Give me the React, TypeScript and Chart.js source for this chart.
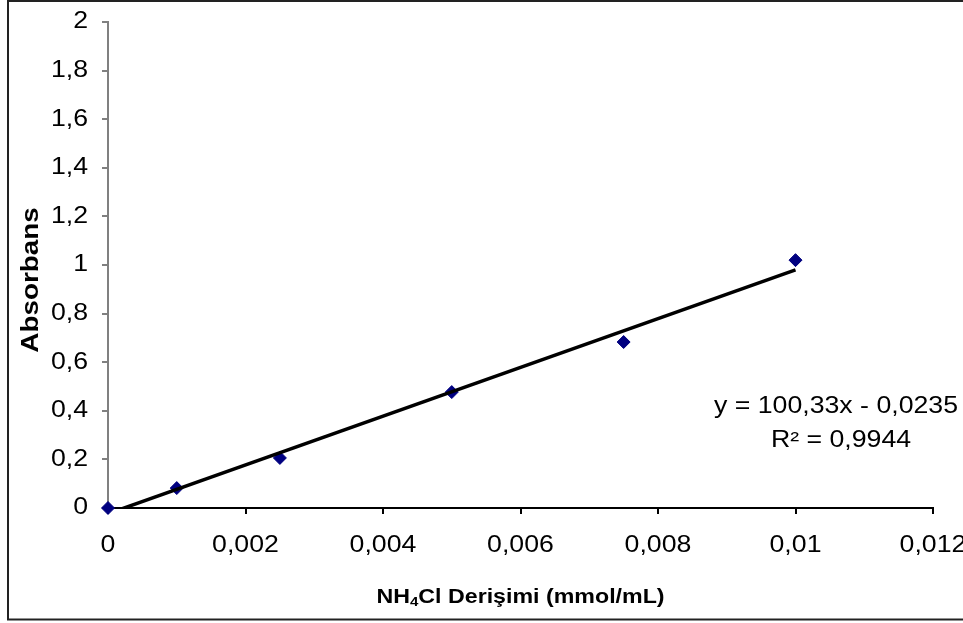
import { useEffect, useRef } from "react";
import { Chart, registerables } from "chart.js";

Chart.register(...registerables);

// Measured calibration points
const concentrations = [0, 0.001, 0.0025, 0.005, 0.0075, 0.01];
const absorbances = [0, 0.082, 0.206, 0.477, 0.683, 1.02];

// Axis ticks
const xTicks = [0, 0.002, 0.004, 0.006, 0.008, 0.01, 0.012];
const yTicks = [0, 0.2, 0.4, 0.6, 0.8, 1, 1.2, 1.4, 1.6, 1.8, 2];

// Linear fit
const slope = 100.33;
const intercept = -0.0235;
const rSquared = 0.9944;
const fitRange = [0, 0.01];

// Titles
const yTitle = "Absorbans";
const xTitleParts = ["NH", "4", "Cl Derişimi (mmol/mL)"];

const FONT = "'Liberation Sans', Arial, sans-serif";
const TEXT_STRETCH = 1.16;

const comma = (v: number) => String(v).replace(".", ",");

// Text is drawn slightly wide; stretch glyphs horizontally along the baseline.
function stretchText(ctx: CanvasRenderingContext2D) {
  const fill = ctx.fillText.bind(ctx);
  const measure = ctx.measureText.bind(ctx);
  (ctx as any).fillText = (text: string, x: number, y: number) => {
    ctx.save();
    ctx.translate(x, y);
    ctx.scale(TEXT_STRETCH, 1);
    fill(text, 0, 0);
    ctx.restore();
  };
  (ctx as any).measureText = (text: string) => {
    const m = measure(text);
    return {
      width: m.width * TEXT_STRETCH,
      actualBoundingBoxLeft: m.actualBoundingBoxLeft * TEXT_STRETCH,
      actualBoundingBoxRight: m.actualBoundingBoxRight * TEXT_STRETCH,
      actualBoundingBoxAscent: m.actualBoundingBoxAscent,
      actualBoundingBoxDescent: m.actualBoundingBoxDescent,
      fontBoundingBoxAscent: m.fontBoundingBoxAscent,
      fontBoundingBoxDescent: m.fontBoundingBoxDescent,
    };
  };
}

const decorations = {
  id: "decorations",
  afterDraw(chart: Chart) {
    const { ctx, chartArea } = chart;
    ctx.save();

    // frame
    ctx.strokeStyle = "#222";
    ctx.lineWidth = 2;
    ctx.strokeRect(8, 1, 1000, 618.5);

    ctx.fillStyle = "#000";
    ctx.textBaseline = "middle";

    // y-axis title
    ctx.save();
    ctx.translate(31, chartArea.top + 258);
    ctx.rotate(-Math.PI / 2);
    ctx.font = `bold 24px ${FONT}`;
    ctx.textAlign = "center";
    ctx.fillText(yTitle, 0, 0);
    ctx.restore();

    // x-axis title with subscript
    const big = `bold 20px ${FONT}`;
    const small = `bold 13px ${FONT}`;
    ctx.textAlign = "left";
    ctx.font = big;
    const w0 = ctx.measureText(xTitleParts[0]).width;
    const w2 = ctx.measureText(xTitleParts[2]).width;
    ctx.font = small;
    const w1 = ctx.measureText(xTitleParts[1]).width;
    const cx = (chartArea.left + chartArea.right) / 2;
    const ty = 597;
    let x = cx - (w0 + w1 + w2) / 2;
    ctx.font = big;
    ctx.fillText(xTitleParts[0], x, ty);
    x += w0;
    ctx.font = small;
    ctx.fillText(xTitleParts[1], x, ty + 5);
    x += w1;
    ctx.font = big;
    ctx.fillText(xTitleParts[2], x, ty);

    // fit equation
    ctx.font = `23px ${FONT}`;
    ctx.textAlign = "center";
    const sign = intercept < 0 ? "-" : "+";
    const eq = `y = ${comma(slope)}x ${sign} ${comma(Math.abs(intercept))}`;
    ctx.fillText(eq, chartArea.right - 97, chartArea.top + 385);
    ctx.fillText(`R² = ${comma(rSquared)}`, chartArea.right - 92, chartArea.top + 419);

    ctx.restore();
  },
};

export default function App() {
  const canvasRef = useRef<HTMLCanvasElement | null>(null);

  useEffect(() => {
    const canvas = canvasRef.current;
    if (!canvas) return;
    const ctx = canvas.getContext("2d")!;
    stretchText(ctx);

    const points = concentrations.map((c, i) => ({ x: c, y: absorbances[i] }));
    const fitLine = fitRange.map((c) => ({ x: c, y: slope * c + intercept }));

    const chart = new Chart(ctx, {
      type: "scatter",
      data: {
        datasets: [
          {
            type: "line",
            label: "fit",
            data: fitLine,
            showLine: true,
            borderColor: "#000",
            borderWidth: 3.5,
            pointRadius: 0,
            fill: false,
            clip: 0,
            order: 0,
          },
          {
            type: "scatter",
            label: "Absorbans",
            data: points,
            pointStyle: "rectRot",
            pointRadius: 6.5,
            backgroundColor: "#000080",
            borderColor: "#000080",
            borderWidth: 1,
            clip: false,
            order: 1,
          },
        ],
      },
      options: {
        animation: false,
        responsive: true,
        maintainAspectRatio: false,
        layout: { padding: { left: 0, right: 30, top: 22, bottom: 0 } },
        plugins: {
          legend: { display: false },
          tooltip: { enabled: false },
        },
        scales: {
          x: {
            type: "linear",
            min: 0,
            max: 0.012,
            afterBuildTicks: (s: any) => {
              s.ticks = xTicks.map((value) => ({ value }));
            },
            afterFit: (s: any) => {
              s.height = 115;
              s.paddingLeft = 0;
              s.paddingRight = 0;
            },
            ticks: {
              callback: (v: any) => comma(Number(v)),
              font: { family: FONT, size: 23 },
              color: "#000",
              padding: 18,
              maxRotation: 0,
              autoSkip: false,
            },
            grid: {
              drawOnChartArea: false,
              drawTicks: true,
              tickLength: 6,
              color: "#000",
              lineWidth: 2,
            },
            border: { display: true, color: "#000", width: 2 },
          },
          y: {
            type: "linear",
            min: 0,
            max: 2,
            afterBuildTicks: (s: any) => {
              s.ticks = yTicks.map((value) => ({ value }));
            },
            afterFit: (s: any) => {
              s.width = 108;
              s.paddingTop = 0;
              s.paddingBottom = 0;
            },
            ticks: {
              callback: (v: any) => comma(Number(v)),
              font: { family: FONT, size: 23 },
              color: "#000",
              padding: 14,
              autoSkip: false,
            },
            grid: {
              drawOnChartArea: false,
              drawTicks: true,
              tickLength: 6,
              color: "#808080",
              lineWidth: 2,
            },
            border: { display: true, color: "#808080", width: 2 },
          },
        },
      },
      plugins: [decorations],
    });

    return () => chart.destroy();
  }, []);

  return (
    <div
      style={{
        position: "fixed",
        left: 0,
        top: 0,
        width: 963,
        height: 623,
        background: "#fff",
      }}
    >
      <canvas ref={canvasRef} style={{ display: "block" }} />
    </div>
  );
}
